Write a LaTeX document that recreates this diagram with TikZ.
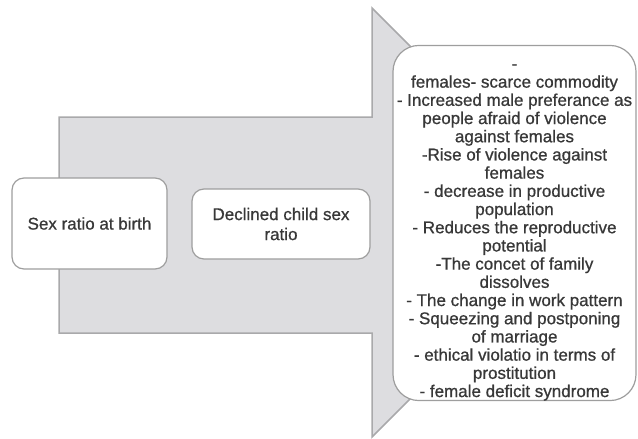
\documentclass[tikz,border=0pt]{standalone}
\usepackage{fontspec}
\setmainfont{Liberation Sans}[FakeBold=0.8]
\definecolor{arrowfill}{HTML}{DDDDE0}
\definecolor{arrowline}{HTML}{A9A9AB}
\definecolor{boxline}{HTML}{9E9E9E}
\definecolor{txt}{HTML}{383838}
\begin{document}
\begin{tikzpicture}[x=1pt,y=-1pt,
  box/.style={draw=boxline, fill=white, line width=1.2pt, align=center, text=txt, inner sep=0pt},
  smallbox/.style={box, rounded corners=12pt, font=\fontsize{17}{20}\selectfont},
  bigbox/.style={box, rounded corners=26pt, font=\fontsize{17}{18.2}\selectfont}]
\useasboundingbox (0,0) rectangle (638,439);
\draw[fill=arrowfill, draw=arrowline, line width=1.5pt, line join=miter]
  (59,117) -- (372,117) -- (372,8) -- (586.5,222.5) -- (372,437) -- (372,333) -- (59,333) -- cycle;
\node[smallbox, minimum width=155pt, minimum height=91pt] (birth) at (89.5,223.5) {Sex ratio at birth};
\node[smallbox, minimum width=178pt, minimum height=70pt] (child) at (281,224) {Declined child sex\\ratio};
\node[bigbox, minimum width=243pt, minimum height=350pt] (effects) at (514.5,223) {\rule{0pt}{24pt}-\\
females- scarce commodity\\
- Increased male preferance as\\
people afraid of violence\\
against females\\
-Rise of violence against\\
females\\
- decrease in productive\\
population\\
- Reduces the reproductive\\
potential\\
-The concet of family\\
dissolves\\
- The change in work pattern\\
- Squeezing and postponing\\
of marriage\\
- ethical violatio in terms of\\
prostitution\\
- female deficit syndrome};
\end{tikzpicture}
\end{document}
